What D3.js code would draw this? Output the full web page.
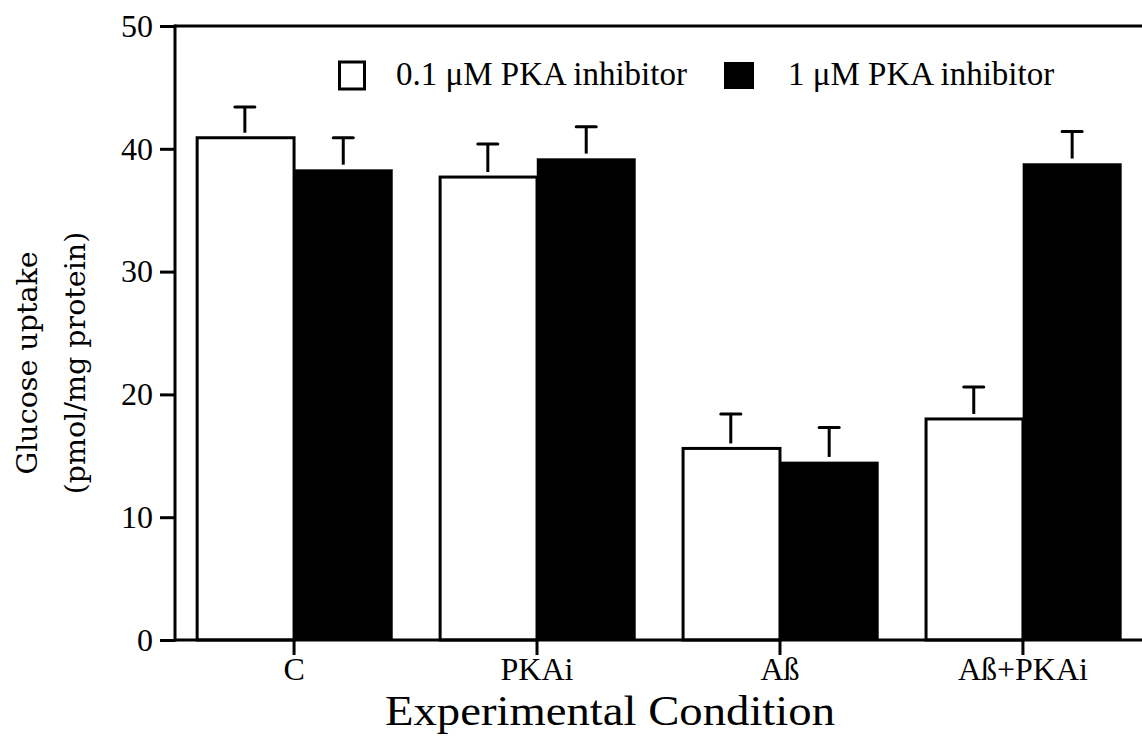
<!DOCTYPE html>
<html>
<head>
<meta charset="utf-8">
<script src="https://cdn.jsdelivr.net/npm/d3@7"></script>
<style>
  html, body { margin: 0; padding: 0; background: #fff; }
  svg { display: block; }
</style>
</head>
<body>
<svg id="chart" width="1142" height="753"></svg>
<script>
const categories = ["C", "PKAi", "Aß", "Aß+PKAi"];
const seriesNames = ["0.1 μM PKA inhibitor", "1 μM PKA inhibitor"];
const lowDose = [40.9, 37.7, 15.6, 18.0];
const highDose = [38.3, 39.2, 14.5, 38.8];
const lowErr = [2.5, 2.7, 2.8, 2.6];
const highErr = [2.6, 2.6, 2.8, 2.6];
const yTicks = [0, 10, 20, 30, 40, 50];
const yTitle = ["Glucose uptake", "(pmol/mg protein)"];
const xTitle = "Experimental Condition";

(function () {
const serif = "'Liberation Serif', 'Times New Roman', serif";
const svg = d3.select("#chart");
const pLeft = 175, pRight = 1142, pTop = 26, pBottom = 640;
const sw = 3;

const y = d3.scaleLinear().domain([0, 50]).range([pBottom, pTop]);
const x0 = d3.scaleBand().domain(categories).range([pLeft, pRight])
  .paddingInner(0.19).paddingOuter(0.085);
const x1 = d3.scaleBand().domain([0, 1]).range([0, x0.bandwidth()]).padding(0);

const rows = categories.map((c, i) => ({
  cat: c,
  vals: [
    { s: 0, v: lowDose[i], e: lowErr[i] },
    { s: 1, v: highDose[i], e: highErr[i] }
  ]
}));

const g = svg.append("g");
const groups = g.selectAll("g.grp").data(rows).enter().append("g")
  .attr("transform", d => `translate(${x0(d.cat)},0)`);

groups.selectAll("rect").data(d => d.vals).enter().append("rect")
  .attr("x", d => x1(d.s) + (d.s === 0 ? sw / 2 : 0))
  .attr("width", d => x1.bandwidth() - (d.s === 0 ? sw / 2 : 0))
  .attr("y", d => y(d.v))
  .attr("height", d => y(0) - y(d.v))
  .attr("fill", d => d.s === 0 ? "#fff" : "#000")
  .attr("stroke", "#000")
  .attr("stroke-width", d => d.s === 0 ? sw : 0.5);

const capW = 20;
groups.selectAll("line.stem").data(d => d.vals).enter().append("line")
  .attr("x1", d => x1(d.s) + x1.bandwidth() / 2)
  .attr("x2", d => x1(d.s) + x1.bandwidth() / 2)
  .attr("y1", d => y(d.v) - 5)
  .attr("y2", d => y(d.v + d.e))
  .attr("stroke", "#000").attr("stroke-width", sw);
groups.selectAll("line.cap").data(d => d.vals).enter().append("line")
  .attr("x1", d => x1(d.s) + x1.bandwidth() / 2 - capW / 2)
  .attr("x2", d => x1(d.s) + x1.bandwidth() / 2 + capW / 2)
  .attr("y1", d => y(d.v + d.e))
  .attr("y2", d => y(d.v + d.e))
  .attr("stroke", "#000").attr("stroke-width", sw).attr("stroke-linecap", "round");

const yAxis = d3.axisLeft(y).tickValues(yTicks).tickSize(15).tickPadding(7).tickFormat(d3.format("d"));
const ya = svg.append("g").attr("transform", `translate(${pLeft},0)`).call(yAxis);
ya.select(".domain").remove();
ya.selectAll(".tick line").attr("stroke", "#000").attr("stroke-width", sw);
ya.selectAll(".tick text").style("font-size", "32px").style("font-family", serif).attr("fill", "#000");
svg.append("line").attr("x1", pLeft).attr("x2", pLeft).attr("y1", pTop - sw/2).attr("y2", pBottom + sw/2)
  .attr("stroke", "#000").attr("stroke-width", sw);

svg.append("line").attr("x1", pLeft).attr("x2", pRight).attr("y1", pTop).attr("y2", pTop)
  .attr("stroke", "#000").attr("stroke-width", sw);

const xAxis = d3.axisBottom(x0).tickSize(15).tickPadding(2);
const xa = svg.append("g").attr("transform", `translate(0,${pBottom})`).call(xAxis);
xa.select(".domain").remove();
xa.selectAll(".tick line").attr("stroke", "#000").attr("stroke-width", sw);
xa.selectAll(".tick text").style("font-size", "32px").style("font-family", serif).attr("fill", "#000");
svg.append("line").attr("x1", pLeft).attr("x2", pRight).attr("y1", pBottom).attr("y2", pBottom)
  .attr("stroke", "#000").attr("stroke-width", sw);

svg.append("text").attr("x", 610).attr("y", 725).attr("text-anchor", "middle")
  .attr("textLength", 450).attr("lengthAdjust", "spacingAndGlyphs")
  .style("font-family", serif).style("font-size", "42px").attr("fill", "#000").text(xTitle);

const yt = svg.append("text").attr("transform", "translate(0,363) rotate(-90)")
  .attr("text-anchor", "middle").attr("fill", "#000")
  .style("font-family", "'DejaVu Serif', serif").style("font-size", "28.5px");
yt.append("tspan").attr("x", 0).attr("y", 37).text(yTitle[0]);
yt.append("tspan").attr("x", 0).attr("y", 85).text(yTitle[1]);

const legendX = [338, 724];
const leg = svg.append("g");
const li = leg.selectAll("g").data(seriesNames).enter().append("g")
  .attr("transform", (d, i) => `translate(${legendX[i]},62)`);
li.append("rect").attr("x", (d, i) => i === 0 ? sw/2 : 0).attr("y", 0)
  .attr("width", (d, i) => i === 0 ? 28 - sw : 30).attr("height", 27)
  .attr("fill", (d, i) => i === 0 ? "#fff" : "#000")
  .attr("stroke", "#000").attr("stroke-width", (d, i) => i === 0 ? sw : 0);
li.append("text").attr("x", (d, i) => i === 0 ? 58 : 64).attr("y", 23)
  .style("font-family", serif).style("font-size", "33px").attr("fill", "#000").text(d => d);
})();
</script>
</body>
</html>
